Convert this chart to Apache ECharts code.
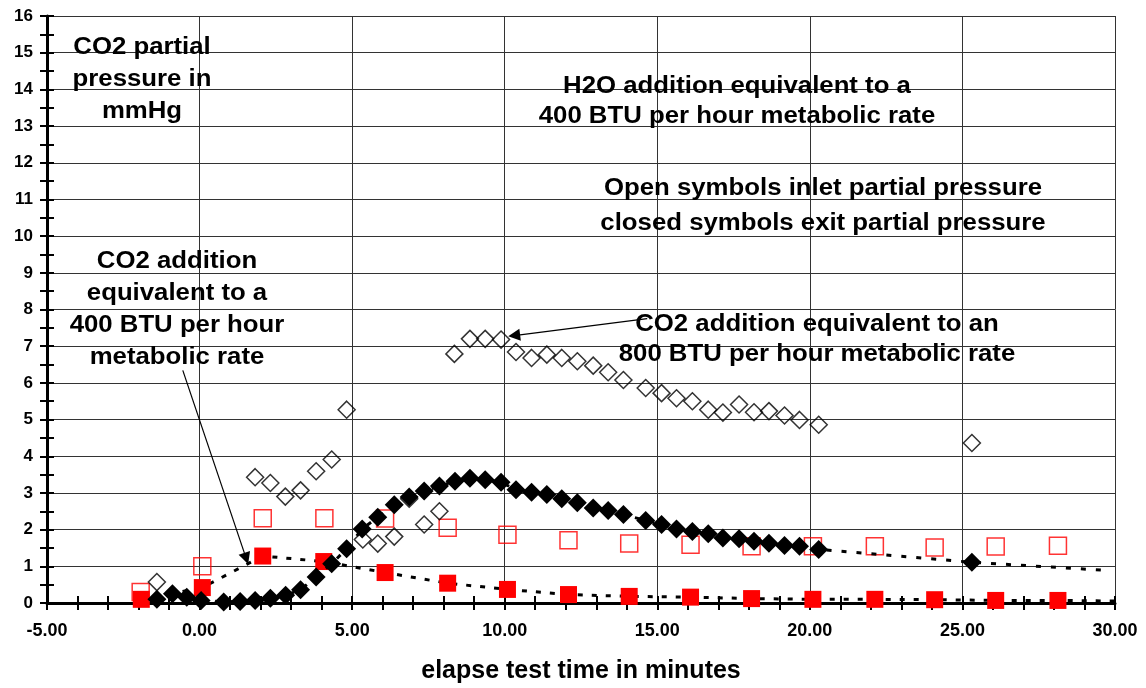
<!DOCTYPE html>
<html>
<head>
<meta charset="utf-8">
<title>CO2 partial pressure</title>
<script src="https://cdn.jsdelivr.net/npm/echarts@6/dist/echarts.min.js"></script>
<style>
  html, body { margin: 0; padding: 0; background: #fff; }
  #chart { width: 1146px; height: 688px; }
</style>
</head>
<body>
<div id="chart"></div>
<script>
// tick labels
const xTickValues = [-5, 0, 5, 10, 15, 20, 25, 30];
const xTickLabels = ['-5.00', '0.00', '5.00', '10.00', '15.00', '20.00', '25.00', '30.00'];

// 400 BTU run, inlet (open red squares)
const inlet400X = [-1.93, 0.09, 2.07, 4.09, 6.08, 8.13, 10.09, 12.09, 14.08, 16.09, 18.09, 20.1, 22.13, 24.09, 26.09, 28.13];
const inlet400Y = [0.30, 1.00, 2.31, 2.31, 2.30, 2.05, 1.86, 1.71, 1.62, 1.59, 1.55, 1.55, 1.55, 1.51, 1.54, 1.56];

// 400 BTU run, exit (filled red squares), plus where the dashed line ends
const exit400X = [-1.91, 0.09, 2.07, 4.07, 6.08, 8.13, 10.09, 12.09, 14.08, 16.09, 18.09, 20.1, 22.13, 24.09, 26.09, 28.13];
const exit400Y = [0.10, 0.42, 1.28, 1.13, 0.83, 0.54, 0.37, 0.23, 0.18, 0.16, 0.12, 0.10, 0.10, 0.09, 0.07, 0.07];
const exit400End = [30.2, 0.05];

// 800 BTU run, inlet (open diamonds)
const inlet800X = [-1.4, 1.82, 2.32, 2.81, 3.31, 3.82, 4.33, 4.82, 5.35, 5.84, 6.38, 6.87, 7.36, 7.86,
  8.35, 8.86, 9.36, 9.88, 10.37, 10.88, 11.38, 11.87, 12.38, 12.9, 13.39, 13.89, 14.62, 15.14, 15.63,
  16.15, 16.67, 17.15, 17.68, 18.17, 18.66, 19.17, 19.66, 20.29, 25.31];
const inlet800Y = [0.57, 3.43, 3.27, 2.90, 3.07, 3.59, 3.91, 5.27, 1.73, 1.62, 1.81, 2.84, 2.14, 2.50,
  6.79, 7.20, 7.20, 7.18, 6.84, 6.68, 6.77, 6.68, 6.59, 6.47, 6.29, 6.08, 5.86, 5.72, 5.58,
  5.50, 5.27, 5.19, 5.41, 5.20, 5.23, 5.11, 4.99, 4.86, 4.36];

// 800 BTU run, exit (filled diamonds), plus where the dotted line ends
const exit800X = [-1.4, -0.89, -0.42, 0.05, 0.79, 1.33, 1.82, 2.32, 2.82, 3.31, 3.82, 4.33, 4.82, 5.33,
  5.84, 6.38, 6.87, 7.36, 7.86, 8.37, 8.86, 9.36, 9.88, 10.37, 10.88, 11.38, 11.87, 12.38, 12.9,
  13.39, 13.89, 14.62, 15.14, 15.63, 16.15, 16.67, 17.15, 17.68, 18.17, 18.66, 19.17, 19.66, 20.29, 25.31];
const exit800Y = [0.10, 0.25, 0.16, 0.07, 0.03, 0.04, 0.07, 0.13, 0.21, 0.36, 0.71, 1.07, 1.48, 2.02,
  2.34, 2.68, 2.89, 3.05, 3.19, 3.32, 3.40, 3.36, 3.29, 3.09, 3.02, 2.96, 2.84, 2.73, 2.59,
  2.52, 2.41, 2.25, 2.14, 2.02, 1.95, 1.89, 1.77, 1.75, 1.68, 1.63, 1.57, 1.55, 1.46, 1.11];
const exit800End = [29.7, 0.89];

// arrows: [from, to] in data units
const arrowLeft = [[-0.55, 6.34], [1.53, 1.21]];
const arrowRight = [[14.67, 7.75], [10.31, 7.29]];

const notes = [
  'CO2 partial\npressure in\nmmHg',
  'H2O addition equivalent to a\n400 BTU per hour metabolic rate',
  'Open symbols inlet partial pressure\nclosed symbols exit partial pressure',
  'CO2 addition equivalent to an\n800 BTU per hour metabolic rate',
  'CO2 addition\nequivalent to a\n400 BTU per hour\nmetabolic rate'
];

const FONT = "'Liberation Sans', Arial, sans-serif";
const zip = (xs, ys) => xs.map((x, i) => [x, ys[i]]);

const chart = echarts.init(document.getElementById('chart'));

const tickStyle = { color: '#000', width: 2 };
const noteText = (text, x, y, lh) => ({
  type: 'text', x: x, y: y, scaleX: 1.12, z: 100,
  style: {
    text: text, fill: '#000', fontFamily: FONT, fontWeight: 'bold', fontSize: 23,
    lineHeight: lh, align: 'center', verticalAlign: 'middle'
  }
});

chart.setOption({
  animation: false,
  grid: { left: 47, right: 31, top: 16, bottom: 85, containLabel: false, outerBoundsMode: 'none' },
  xAxis: [
    {
      type: 'value', min: -5, max: 30, interval: 5, position: 'bottom',
      axisLine: { onZero: false, lineStyle: { color: '#000', width: 3 } },
      axisTick: { show: true, length: 7, lineStyle: tickStyle },
      minorTick: { show: true, splitNumber: 5, length: 7, lineStyle: tickStyle },
      axisLabel: {
        margin: 19, color: '#000', fontFamily: FONT, fontWeight: 'bold', fontSize: 18,
        formatter: v => xTickLabels[xTickValues.indexOf(v)] ?? v.toFixed(2)
      },
      splitLine: { show: true, lineStyle: { color: '#333', width: 1 } },
      name: 'elapse test time in minutes', nameLocation: 'middle', nameGap: 56,
      nameTextStyle: { color: '#000', fontFamily: FONT, fontWeight: 'bold', fontSize: 25 }
    },
    {
      type: 'value', min: -5, max: 30, interval: 5, position: 'bottom',
      axisLine: { show: false, onZero: false },
      axisTick: { show: true, inside: true, length: 7, lineStyle: tickStyle },
      minorTick: { show: true, splitNumber: 5, length: 7, lineStyle: tickStyle },
      axisLabel: { show: false },
      splitLine: { show: false }
    }
  ],
  yAxis: [
    {
      type: 'value', min: 0, max: 16, interval: 1, position: 'left',
      axisLine: { show: true, onZero: false, lineStyle: { color: '#000', width: 3 } },
      axisTick: { show: true, length: 7, lineStyle: tickStyle },
      minorTick: { show: true, splitNumber: 2, length: 7, lineStyle: tickStyle },
      axisLabel: { margin: 14, color: '#000', fontFamily: FONT, fontWeight: 'bold', fontSize: 17 },
      splitLine: { show: true, lineStyle: { color: '#333', width: 1 } }
    },
    {
      type: 'value', min: 0, max: 16, interval: 1, position: 'left',
      axisLine: { show: false, onZero: false },
      axisTick: { show: true, inside: true, length: 7, lineStyle: tickStyle },
      minorTick: { show: true, splitNumber: 2, length: 7, lineStyle: tickStyle },
      axisLabel: { show: false },
      splitLine: { show: false }
    }
  ],
  graphic: [
    noteText(notes[0], 142, 80, 32),
    noteText(notes[1], 737, 102, 30),
    noteText(notes[2], 823, 206, 35),
    noteText(notes[3], 817, 340, 30),
    noteText(notes[4], 177, 310, 32)
  ],
  series: [
    {
      name: 'inlet 400', type: 'scatter', z: 2,
      data: zip(inlet400X, inlet400Y),
      symbol: 'rect', symbolSize: 17,
      itemStyle: { color: 'rgba(0,0,0,0)', borderColor: '#ff0000', borderWidth: 1.5 }
    },
    {
      name: 'exit 400', type: 'line', z: 3,
      data: zip(exit400X, exit400Y).concat([{ value: exit400End, symbol: 'none' }]),
      symbol: 'rect', symbolSize: 17, showSymbol: true,
      itemStyle: { color: '#ff0000', borderWidth: 0 },
      lineStyle: { color: '#000', width: 3, type: [5, 9] }
    },
    {
      name: 'inlet 800', type: 'scatter', z: 4,
      data: zip(inlet800X, inlet800Y),
      symbol: 'diamond', symbolSize: 17,
      itemStyle: { color: 'rgba(0,0,0,0)', borderColor: '#000', borderWidth: 1.5 },
      markLine: {
        silent: true, animation: false,
        symbol: ['none', 'triangle'], symbolSize: 12,
        label: { show: false },
        lineStyle: { color: '#000', width: 1.2, type: 'solid' },
        data: [
          [{ coord: arrowLeft[0] }, { coord: arrowLeft[1] }],
          [{ coord: arrowRight[0] }, { coord: arrowRight[1] }]
        ]
      }
    },
    {
      name: 'exit 800', type: 'line', z: 5,
      data: zip(exit800X, exit800Y).concat([{ value: exit800End, symbol: 'none' }]),
      symbol: 'diamond', symbolSize: 19, showSymbol: true,
      itemStyle: { color: '#000', borderWidth: 0 },
      lineStyle: { color: '#000', width: 3, type: [5, 10] }
    }
  ]
});
</script>
</body>
</html>
